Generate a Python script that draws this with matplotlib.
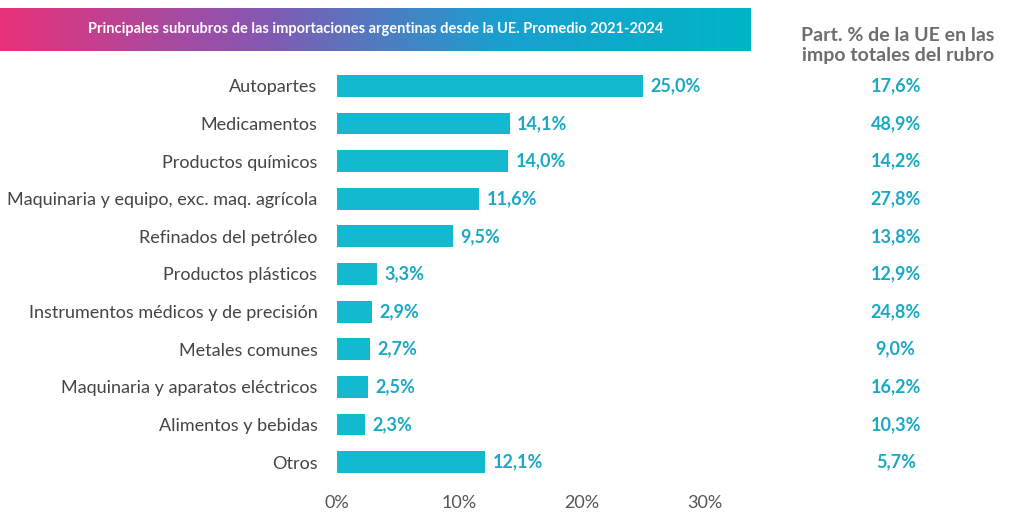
import matplotlib
matplotlib.use("Agg")
import matplotlib.pyplot as plt
import numpy as np
from matplotlib.colors import LinearSegmentedColormap

plt.rcParams['font.family'] = ['Lato', 'DejaVu Sans']

categories = ["Autopartes", "Medicamentos", "Productos químicos",
              "Maquinaria y equipo, exc. maq. agrícola", "Refinados del petróleo",
              "Productos plásticos", "Instrumentos médicos y de precisión",
              "Metales comunes", "Maquinaria y aparatos eléctricos",
              "Alimentos y bebidas", "Otros"]
values = [25.0, 14.1, 14.0, 11.6, 9.5, 3.3, 2.9, 2.7, 2.5, 2.3, 12.1]
share_ue = [17.6, 48.9, 14.2, 27.8, 13.8, 12.9, 24.8, 9.0, 16.2, 10.3, 5.7]
xticks = [0, 10, 20, 30]

def fmt(v):
    return f"{v:.1f}%".replace(".", ",")

bar_c = "#13b9cf"
txt_c = "#1aa9c4"

fig = plt.figure(figsize=(10.24, 5.32), dpi=100)
ax = fig.add_axes([0.329, 0.096, 0.359, 0.778])
y = np.arange(len(categories))
ax.barh(y, values, height=0.58, color=bar_c)
ax.set_ylim(len(categories) - 0.5, -0.5)
ax.set_xlim(0, 30)
ax.set_xticks(xticks)
ax.set_xticklabels([f"{t}%" for t in xticks], fontsize=13, color="#555555")
ax.set_yticks(y)
ax.set_yticklabels(categories, fontsize=13, color="#444444")
ax.tick_params(length=0, pad=14)
ax.tick_params(axis='x', pad=10)
for s in ax.spines.values():
    s.set_visible(False)
for yi, v in zip(y, values):
    ax.text(v + 0.6, yi, fmt(v), va="center", ha="left", fontsize=13,
            fontweight="bold", color=txt_c, clip_on=False)

# right column
for yi, v in zip(y, share_ue):
    ax.text(45.6, yi, fmt(v), va="center", ha="center", fontsize=13,
            fontweight="bold", color=txt_c, clip_on=False)
fig.text(0.877, 0.915, "Part. % de la UE en las\nimpo totales del rubro",
         ha="center", va="center", fontsize=14, fontweight="bold",
         color="#6d6d6d", linespacing=1.2)

# banner
bax = fig.add_axes([0.0, 0.905, 0.733, 0.08])
cmap = LinearSegmentedColormap.from_list("b", ["#e8327a", "#8a55b0", "#1a9fd0", "#00b5c6"])
grad = np.linspace(0, 1, 256).reshape(1, -1)
bax.imshow(grad, aspect="auto", cmap=cmap, extent=[0, 1, 0, 1])
bax.set_axis_off()
bax.text(0.5, 0.5, "Principales subrubros de las importaciones argentinas desde la UE. Promedio 2021-2024",
         ha="center", va="center", color="white", fontsize=10.5, fontweight="bold",
         transform=bax.transAxes)

fig.savefig("out.png", dpi=100, facecolor="white")
